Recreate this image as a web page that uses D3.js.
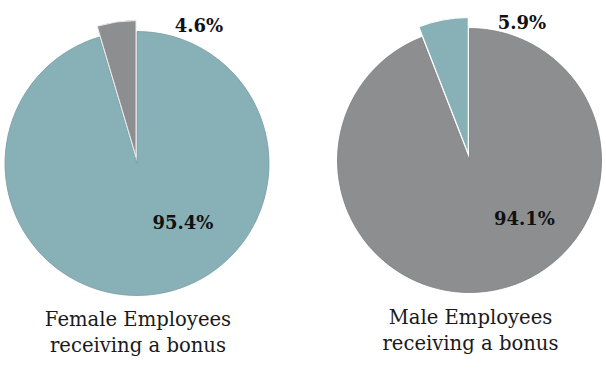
<!DOCTYPE html>
<html><head><meta charset="utf-8">
<script src="https://cdn.jsdelivr.net/npm/d3@7"></script>
<style>
html,body{margin:0;padding:0;background:#fff;}
svg{display:block;}
</style></head>
<body>
<svg id="chart" width="606" height="384"></svg>
<script>
// ---- data ----
const sliceNames = ["Major share", "Minor share"];
const femaleValues = [95.4, 4.6];
const maleValues = [94.1, 5.9];
const femaleColors = ["#88b0b7", "#8d8e90"];
const maleColors = ["#8d8e90", "#88b0b7"];
const femaleTitle = ["Female Employees", "receiving a bonus"];
const maleTitle = ["Male Employees", "receiving a bonus"];

const svg = d3.select("#chart");
const fontSerif = "'DejaVu Serif', 'Liberation Serif', serif";

function darker(c){ return d3.color(c).darker(0.35).formatHex(); }

function drawPie(cfg){
  const g = svg.append("g").attr("transform", `translate(${cfg.cx},${cfg.cy})`);
  const pie = d3.pie().sort(null).value(d => d)(cfg.values);
  const arc = d3.arc().innerRadius(0).outerRadius(cfg.r);
  const arcExp = d3.arc().innerRadius(0).outerRadius(cfg.r + 4);
  pie.forEach((p, i) => {
    const exploded = i === 1;
    const mid = (p.startAngle + p.endAngle) / 2;
    const off = exploded ? 7 : 0;
    const dx = Math.sin(mid) * off, dy = -Math.cos(mid) * off;
    g.append("path")
      .attr("d", exploded ? arcExp(p) : arc(p))
      .attr("transform", `translate(${dx},${dy})`)
      .attr("fill", cfg.colors[i])
      .attr("stroke", exploded ? cfg.slStroke : darker(cfg.colors[i]))
      .attr("stroke-width", exploded ? 1 : 0.8)
      .attr("stroke-linejoin", "round");
  });
  // labels
  g.append("text")
    .attr("x", cfg.bigLabel[0]).attr("y", cfg.bigLabel[1])
    .attr("text-anchor", "middle")
    .attr("font-family", fontSerif).attr("font-weight", "bold").attr("font-size", 18)
    .attr("fill", "#111")
    .text(cfg.values[0].toFixed(1) + "%");
  g.append("text")
    .attr("x", cfg.smallLabel[0]).attr("y", cfg.smallLabel[1])
    .attr("text-anchor", "middle")
    .attr("font-family", fontSerif).attr("font-weight", "bold").attr("font-size", 18)
    .attr("fill", "#111")
    .text(cfg.values[1].toFixed(1) + "%");
  // title
  cfg.title.forEach((t, i) => {
    svg.append("text")
      .attr("x", cfg.cx + 1).attr("y", cfg.titleY + i * 26)
      .attr("text-anchor", "middle")
      .attr("font-family", fontSerif).attr("font-size", 19.6)
      .attr("fill", "#1a1a1a")
      .text(t);
  });
}

drawPie({cx:137, cy:163.5, r:132, values:femaleValues, colors:femaleColors, slStroke:"#e8e8e8",
  bigLabel:[46, 65.5], smallLabel:[62, -131.5], title:femaleTitle, titleY:326});
drawPie({cx:469.5, cy:160.5, r:132, values:maleValues, colors:maleColors, slStroke:"#ffffff",
  bigLabel:[55, 64.5], smallLabel:[52.5, -131.5], title:maleTitle, titleY:324});
</script>
</body></html>
